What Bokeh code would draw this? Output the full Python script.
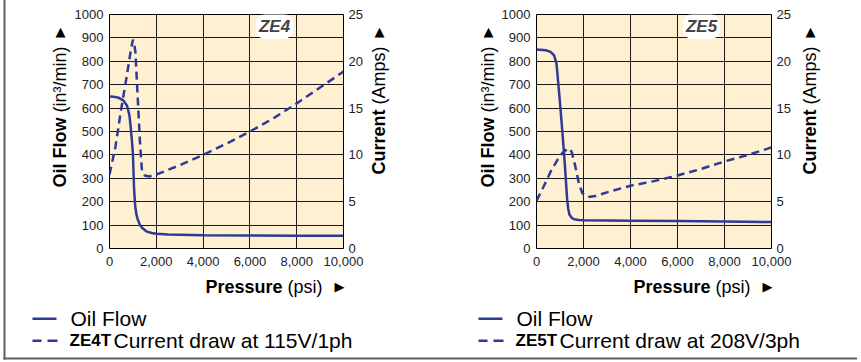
import math
from bokeh.plotting import figure
from bokeh.models import (Range1d, LinearAxis, Label, BoxAnnotation, SingleIntervalTicker,
                          NumeralTickFormatter, GridBox)
from bokeh.layouts import row, column
from bokeh.embed import file_html
from bokeh.resources import INLINE

# ---------------- data ----------------
ze4_flow_psi = [0, 200, 400, 600, 750, 850, 900, 950, 1000, 1050, 1100, 1150, 1200, 1300, 1400,
                1600, 1800, 2000, 2500, 3000, 4000, 6000, 8000, 10000]
ze4_flow = [650, 648, 644, 632, 610, 570, 525, 470, 405, 255, 180, 146, 126, 101, 88,
            72, 66, 63, 60, 59, 57, 56, 55, 54]

ze4_amps_psi = [0, 250, 500, 750, 900, 1000, 1050, 1110, 1210, 1300, 1390, 1500, 1700, 2000,
                3000, 4000, 5000, 6000, 7000, 8000, 9000, 10000]
ze4_amps = [7.9, 10.8, 14.9, 18.6, 21.0, 22.3, 22.0, 20.9, 15.9, 11.5, 8.2, 7.8, 7.7, 7.9,
            8.9, 10.0, 11.2, 12.5, 13.9, 15.5, 17.2, 18.9]

ze5_flow_psi = [0, 400, 600, 750, 850, 900, 1000, 1100, 1200, 1300, 1350, 1400, 1500, 1600,
                1800, 2000, 4000, 6000, 8000, 10000]
ze5_flow = [850, 847, 840, 825, 790, 737, 622, 500, 368, 215, 170, 145, 131, 125,
            122, 121, 119, 117, 115, 113]

ze5_amps_psi = [0, 300, 600, 900, 1100, 1300, 1400, 1500, 1650, 1800, 1950, 2200, 2500, 3000,
                4000, 5000, 6000, 7000, 8000, 9000, 10000]
ze5_amps = [5.1, 6.6, 8.2, 9.5, 10.2, 10.6, 10.7, 10.3, 8.8, 7.0, 5.9, 5.5, 5.6, 6.0,
            6.7, 7.2, 7.8, 8.5, 9.3, 10.0, 10.8]

models = ["ZE4", "ZE5"]
legend_models = ["ZE4T", "ZE5T"]
legend_texts = ["Current draw at 115V/1ph", "Current draw at 208V/3ph"]

LINE = "#2E3A96"
BG = "#FEF0D1"
FONT = "Liberation Sans"
GRID = "#1a1a1a"
BORDER = "#5f5f5f"
OFF = 3  # the layout sits a few pixels above/left of the page origin


def canvas_box(l, r, t, b, color):
    return BoxAnnotation(left=l + OFF, right=r + OFF, top=t + OFF, bottom=b + OFF,
                         left_units="canvas", right_units="canvas", top_units="canvas",
                         bottom_units="canvas", fill_color=color, fill_alpha=1, line_alpha=0)


def make_panel(width, left, right, flow_x, flow_y, amps_x, amps_y, badge, badge_x):
    p = figure(width=width, height=365, output_backend="svg", toolbar_location=None,
               x_range=Range1d(0, 10000), y_range=Range1d(0, 1000),
               min_border_left=left, min_border_right=right, min_border_top=15 + OFF,
               min_border_bottom=113, background_fill_color=BG, border_fill_color="white")
    p.extra_y_ranges = {"amps": Range1d(0, 25)}
    p.outline_line_color = "black"
    p.outline_line_width = 1

    p.xaxis.ticker = SingleIntervalTicker(interval=2000)
    p.xaxis.formatter = NumeralTickFormatter(format="0,0")
    p.yaxis.ticker = SingleIntervalTicker(interval=100)
    ax_r = LinearAxis(y_range_name="amps", ticker=SingleIntervalTicker(interval=5))
    p.add_layout(ax_r, "right")
    for ax in p.xaxis + p.yaxis:
        ax.axis_line_color = None
        ax.major_tick_line_color = None
        ax.minor_tick_line_color = None
        ax.major_tick_out = 0
        ax.major_tick_in = 0
        ax.minor_tick_out = 0
        ax.minor_tick_in = 0
        ax.major_label_text_font = FONT
        ax.major_label_text_font_size = "13px"
        ax.major_label_text_color = "#222222"
        ax.major_label_standoff = 6
    p.xaxis.major_label_standoff = 8
    ax_r.major_label_standoff = 5

    p.xgrid.grid_line_color = GRID
    p.ygrid.grid_line_color = GRID

    p.line(flow_x, flow_y, line_color=LINE, line_width=2.5)
    p.line(amps_x, amps_y, line_color=LINE, line_width=2.5, line_dash="8 5", y_range_name="amps")

    # model badge (inside the frame)
    p.add_layout(Label(x=badge_x, y=27 + OFF, x_units="canvas", y_units="canvas", text=badge,
                       text_font=FONT, text_font_style="bold italic", text_font_size="17px",
                       text_align="center", text_baseline="middle", background_fill_color="white",
                       padding=3, border_radius=9))
    return p


p1 = make_panel(430, 110 + OFF, 86 - OFF, ze4_flow_psi, ze4_flow, ze4_amps_psi, ze4_amps,
                models[0], 275 + OFF)
p2 = make_panel(431, 107 + OFF, 89 - OFF, ze5_flow_psi, ze5_flow, ze5_amps_psi, ze5_amps,
                models[1], 272 + OFF)

# transparent overlay carrying the titles, legend and outer frame
bg = figure(width=861, height=365, output_backend="svg", toolbar_location=None,
            x_range=Range1d(0, 861), y_range=Range1d(365, 0), x_axis_type=None, y_axis_type=None,
            min_border=0, min_border_left=0, min_border_right=0, min_border_top=0,
            min_border_bottom=0, background_fill_alpha=0, border_fill_alpha=0)
bg.outline_line_color = None
bg.xgrid.visible = False
bg.ygrid.visible = False


def vlabel(x, y, text, style):
    bg.add_layout(Label(x=x + OFF, y=y + OFF, x_units="canvas", y_units="canvas", text=text,
                        angle=math.pi / 2, text_font=FONT, text_font_style=style,
                        text_font_size="18px", text_align="left", text_baseline="middle",
                        text_color="black"))


def tlabel(x, y, text, style="normal", size="18px", align="left", font=FONT):
    bg.add_layout(Label(x=x + OFF, y=y + OFF, x_units="canvas", y_units="canvas", text=text,
                        text_font=font, text_font_style=style, text_font_size=size,
                        text_align=align, text_baseline="middle", text_color="black"))


for off, lx, rx, px0, ax, leg_x0, lm, lt in [
        (0, 60, 379, 206, 340, 33, legend_models[0], legend_texts[0]),
        (430, 58, 380, 204, 338, 49, legend_models[1], legend_texts[1])]:
    vlabel(off + lx, 188, "Oil Flow", "bold")
    vlabel(off + lx, 113, "(in³/min)", "normal")
    vlabel(off + rx, 175, "Current", "bold")
    vlabel(off + rx, 105, "(Amps)", "normal")
    tlabel(off + lx + 1, 32, "▲", size="13px", align="center", font="DejaVu Sans")
    tlabel(off + rx + 1, 32, "▲", size="13px", align="center", font="DejaVu Sans")
    tlabel(off + px0, 287, "Pressure", "bold")
    tlabel(off + px0 + 82, 287, "(psi)")
    tlabel(off + ax, 287, "▶", size="13px", align="center", font="DejaVu Sans")
    # legend
    x0 = off + leg_x0
    bg.add_layout(canvas_box(x0, x0 + 24, 318, 320.5, LINE))
    for a, b in [(0, 9), (15, 25)]:
        bg.add_layout(canvas_box(x0 + a, x0 + b, 340, 342.5, LINE))
    tlabel(x0 + 38, 319, "Oil Flow", size="21px")
    tlabel(x0 + 37, 341, lm, "bold", size="17px")
    tlabel(x0 + 81, 341, lt, size="21px")

# outer frame (left and bottom edges)
bg.add_layout(canvas_box(4, 6, -3, 360, BORDER))
bg.add_layout(canvas_box(4, 861, 358, 360, BORDER))

layout = GridBox(children=[(row(p1, p2), 0, 0), (column(bg), 0, 0)], spacing=0,
                 margin=(-4, 0, -4, -4))
open("out.html", "w").write(file_html(layout, INLINE))
